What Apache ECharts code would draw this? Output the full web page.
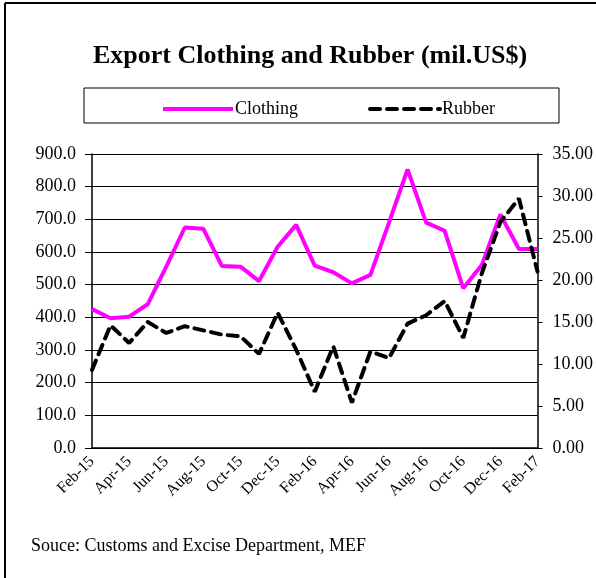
<!DOCTYPE html>
<html>
<head>
<meta charset="utf-8">
<script src="https://cdn.jsdelivr.net/npm/echarts@6/dist/echarts.min.js"></script>
<style>
  html, body { margin: 0; padding: 0; background: #fff; }
  #chart { width: 596px; height: 578px; }
</style>
</head>
<body>
<div id="chart"></div>
<script>
// monthly data, Feb-15 .. Feb-17
const months = ['Feb-15', 'Mar-15', 'Apr-15', 'May-15', 'Jun-15', 'Jul-15', 'Aug-15', 'Sep-15', 'Oct-15',
    'Nov-15', 'Dec-15', 'Jan-16', 'Feb-16', 'Mar-16', 'Apr-16', 'May-16', 'Jun-16', 'Jul-16', 'Aug-16',
    'Sep-16', 'Oct-16', 'Nov-16', 'Dec-16', 'Jan-17', 'Feb-17'];
const clothing = [425, 397, 402, 440, 555, 675, 671, 557, 555, 511, 616, 683, 558, 538, 504, 530, 690,
    853, 690, 665, 489, 560, 715, 609, 609];
const rubber = [9.3, 14.6, 12.5, 15.0, 13.7, 14.5, 14.0, 13.5, 13.3, 11.2, 16.1, 11.7, 6.7, 12.1, 5.4,
    11.5, 10.7, 14.8, 15.8, 17.5, 13.1, 20.8, 26.9, 29.7, 21.0];

const serif = '"Liberation Serif", "DejaVu Serif", serif';

const options = {
    animation: false,
    backgroundColor: '#fff',
    textStyle: { fontFamily: serif },
    title: {
        text: 'Export Clothing and Rubber (mil.US$)',
        left: 305,
        textAlign: 'center',
        top: 38,
        textStyle: { fontFamily: serif, fontSize: 26, fontWeight: 'bold', color: '#000' }
    },
    legend: {
        left: 156,
        top: 95,
        itemWidth: 70,
        itemHeight: 12,
        itemGap: 70,
        itemStyle: { opacity: 0 },
        lineStyle: { width: 4 },
        textStyle: { fontFamily: serif, fontSize: 18, color: '#000', padding: [0, 0, 0, -3] },
        data: ['Clothing', 'Rubber']
    },
    grid: { left: 92, right: 58, top: 154, bottom: 130 },
    xAxis: {
        type: 'category',
        data: months,
        boundaryGap: false,
        axisLine: { lineStyle: { color: '#000', width: 1.5 } },
        axisTick: { show: false },
        axisLabel: {
            interval: 1,
            rotate: 45,
            color: '#000',
            fontFamily: serif,
            fontSize: 16,
            margin: 11
        }
    },
    yAxis: [{
        type: 'value',
        min: 0,
        max: 900,
        interval: 100,
        axisLine: { show: true, lineStyle: { color: '#000', width: 1.5 } },
        axisTick: { show: true, length: 7, lineStyle: { color: '#000' } },
        axisLabel: {
            formatter: v => v.toFixed(1),
            color: '#000', fontFamily: serif, fontSize: 18, margin: 16
        },
        splitLine: { lineStyle: { color: '#000', width: 1.2 } }
    }, {
        type: 'value',
        min: 0,
        max: 35,
        interval: 5,
        position: 'right',
        axisLine: { show: true, lineStyle: { color: '#000', width: 1.5 } },
        axisTick: { show: true, length: 5, lineStyle: { color: '#000' } },
        axisLabel: {
            formatter: v => v.toFixed(2),
            color: '#000', fontFamily: serif, fontSize: 18, margin: 15
        },
        splitLine: { show: false }
    }],
    series: [{
        name: 'Clothing',
        type: 'line',
        data: clothing,
        yAxisIndex: 0,
        symbol: 'none',
        color: '#FF00FF',
        lineStyle: { color: '#FF00FF', width: 4 }
    }, {
        name: 'Rubber',
        type: 'line',
        data: rubber,
        yAxisIndex: 1,
        symbol: 'none',
        color: '#000',
        lineStyle: { color: '#000', width: 4, type: [10, 7], cap: 'round' }
    }],
    graphic: [
        // outer frame
        { type: 'line', shape: { x1: 5, y1: 3, x2: 596, y2: 3 }, style: { stroke: '#000', lineWidth: 2 } },
        { type: 'line', shape: { x1: 5, y1: 3, x2: 5, y2: 578 }, style: { stroke: '#000', lineWidth: 2 } },
        // legend box
        { type: 'rect', shape: { x: 84, y: 88, width: 475, height: 35 },
          style: { fill: null, stroke: '#000', lineWidth: 1 }, z: -1 },
        {
            type: 'text', left: 31, top: 537,
            style: { text: 'Souce: Customs and Excise Department, MEF', font: '18px ' + serif, fill: '#000' }
        }
    ]
};

const E = echarts.init(document.getElementById('chart'));
E.setOption(options);
</script>
</body>
</html>
